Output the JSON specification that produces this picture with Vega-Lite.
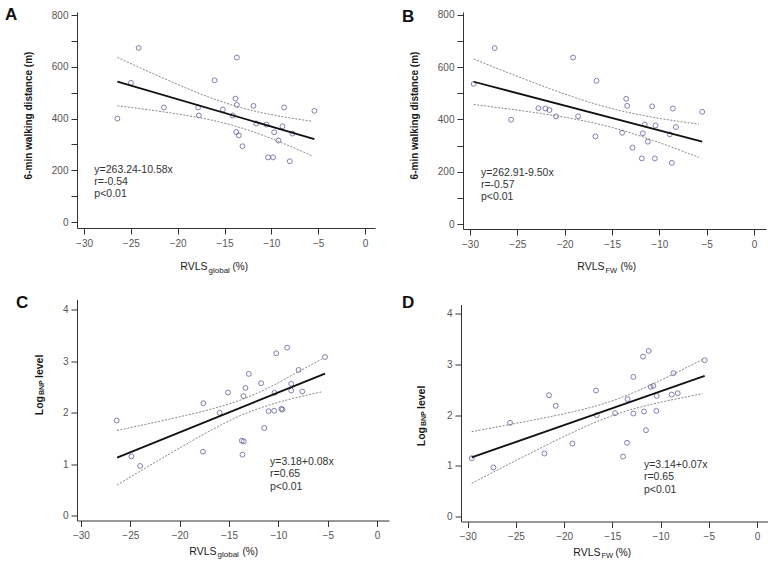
{
  "$schema": "https://vega.github.io/schema/vega-lite/v6.json",
  "background": "white",
  "padding": {"left": 5, "top": 6, "right": 0, "bottom": 0},
  "config": {
    "view": {"stroke": null},
    "axis": {
      "grid": false,
      "domainColor": "#333333",
      "domainWidth": 1,
      "tickColor": "#333333",
      "tickSize": 6,
      "labelColor": "#555555",
      "labelFont": "Liberation Sans",
      "labelFontSize": 10,
      "titleFont": "Liberation Sans",
      "titleColor": "#1a1a1a"
    },
    "axisX": {"labelPadding": 4},
    "axisY": {"labelPadding": 3},
    "title": {"font": "Liberation Sans", "fontSize": 17, "fontWeight": "bold", "color": "#111111", "anchor": "start", "frame": "group", "baseline": "alphabetic"}
  },
  "datasets": {
    "A_pts": [
      {"x": -26.44, "y": 400}, {"x": -24.99, "y": 538}, {"x": -24.17, "y": 673}, {"x": -21.47, "y": 443},
      {"x": -17.81, "y": 443}, {"x": -17.74, "y": 412}, {"x": -16.06, "y": 548}, {"x": -15.18, "y": 435},
      {"x": -14.11, "y": 412}, {"x": -13.83, "y": 477}, {"x": -13.68, "y": 636}, {"x": -13.68, "y": 453},
      {"x": -13.75, "y": 348}, {"x": -13.47, "y": 335}, {"x": -13.08, "y": 293}, {"x": -11.91, "y": 449},
      {"x": -11.62, "y": 381}, {"x": -10.52, "y": 377}, {"x": -10.34, "y": 250}, {"x": -9.81, "y": 250},
      {"x": -9.70, "y": 347}, {"x": -9.24, "y": 315}, {"x": -8.81, "y": 370}, {"x": -8.63, "y": 443},
      {"x": -8.03, "y": 235}, {"x": -7.75, "y": 342}, {"x": -5.40, "y": 430}
    ],
    "A_fit": [{"x": -26.44, "y": 543.0}, {"x": -5.40, "y": 320.4}],
    "A_ci": [
      {"x": -26.44, "y": 636.5, "side": "upper"}, {"x": -23, "y": 579.8, "side": "upper"}, {"x": -20, "y": 531.9, "side": "upper"},
      {"x": -17, "y": 487.5, "side": "upper"}, {"x": -14, "y": 450.2, "side": "upper"}, {"x": -11, "y": 422.5, "side": "upper"},
      {"x": -8, "y": 402.6, "side": "upper"}, {"x": -5.65, "y": 389.7, "side": "upper"},
      {"x": -26.44, "y": 449.5, "side": "lower"}, {"x": -23, "y": 433.4, "side": "lower"}, {"x": -20, "y": 417.7, "side": "lower"},
      {"x": -17, "y": 398.7, "side": "lower"}, {"x": -14, "y": 372.6, "side": "lower"}, {"x": -11, "y": 336.7, "side": "lower"},
      {"x": -8, "y": 293.2, "side": "lower"}, {"x": -5.65, "y": 256.3, "side": "lower"}
    ],
    "A_txt": [
      {"x": -28.9, "y": 201, "t": "y=263.24-10.58x"},
      {"x": -28.9, "y": 154.6, "t": "r=-0.54"},
      {"x": -28.9, "y": 108, "t": "p<0.01"}
    ],
    "B_pts": [
      {"x": -29.61, "y": 536}, {"x": -27.39, "y": 673}, {"x": -25.66, "y": 399}, {"x": -22.77, "y": 443},
      {"x": -22.03, "y": 442}, {"x": -21.61, "y": 436}, {"x": -20.91, "y": 412}, {"x": -19.11, "y": 637},
      {"x": -18.58, "y": 412}, {"x": -16.64, "y": 548}, {"x": -16.75, "y": 335}, {"x": -13.93, "y": 349},
      {"x": -13.50, "y": 479}, {"x": -13.40, "y": 452}, {"x": -12.83, "y": 292}, {"x": -11.85, "y": 251},
      {"x": -11.74, "y": 347}, {"x": -11.53, "y": 381}, {"x": -11.21, "y": 315}, {"x": -10.75, "y": 450},
      {"x": -10.47, "y": 251}, {"x": -10.40, "y": 377}, {"x": -8.89, "y": 343}, {"x": -8.68, "y": 234},
      {"x": -8.57, "y": 442}, {"x": -8.25, "y": 371}, {"x": -5.47, "y": 429}
    ],
    "B_fit": [{"x": -29.61, "y": 544.2}, {"x": -5.47, "y": 314.9}],
    "B_ci": [
      {"x": -29.61, "y": 631.2, "side": "upper"}, {"x": -26, "y": 579.2, "side": "upper"}, {"x": -23, "y": 537.2, "side": "upper"},
      {"x": -20, "y": 497.4, "side": "upper"}, {"x": -17, "y": 461.7, "side": "upper"}, {"x": -14, "y": 432.6, "side": "upper"},
      {"x": -11, "y": 410.5, "side": "upper"}, {"x": -8, "y": 392.9, "side": "upper"}, {"x": -5.8, "y": 381.6, "side": "upper"},
      {"x": -29.61, "y": 457.2, "side": "lower"}, {"x": -26, "y": 440.6, "side": "lower"}, {"x": -23, "y": 425.6, "side": "lower"},
      {"x": -20, "y": 408.4, "side": "lower"}, {"x": -17, "y": 387.1, "side": "lower"}, {"x": -14, "y": 359.2, "side": "lower"},
      {"x": -11, "y": 324.3, "side": "lower"}, {"x": -8, "y": 284.9, "side": "lower"}, {"x": -5.8, "y": 254.4, "side": "lower"}
    ],
    "B_txt": [
      {"x": -28.84, "y": 197, "t": "y=262.91-9.50x"},
      {"x": -28.84, "y": 150, "t": "r=-0.57"},
      {"x": -28.84, "y": 103, "t": "p<0.01"}
    ],
    "C_pts": [
      {"x": -26.38, "y": 1.848}, {"x": -24.89, "y": 1.150}, {"x": -24.01, "y": 0.963}, {"x": -17.61, "y": 2.184},
      {"x": -17.64, "y": 1.241}, {"x": -15.95, "y": 1.997}, {"x": -15.10, "y": 2.391}, {"x": -13.71, "y": 1.454},
      {"x": -13.54, "y": 2.320}, {"x": -13.51, "y": 1.441}, {"x": -13.64, "y": 1.183}, {"x": -13.34, "y": 2.481},
      {"x": -13.00, "y": 2.753}, {"x": -11.75, "y": 2.572}, {"x": -11.44, "y": 1.700}, {"x": -11.00, "y": 2.029},
      {"x": -10.43, "y": 2.036}, {"x": -10.39, "y": 2.385}, {"x": -10.22, "y": 3.153}, {"x": -9.70, "y": 2.074},
      {"x": -9.60, "y": 2.060}, {"x": -9.11, "y": 3.263}, {"x": -8.70, "y": 2.559}, {"x": -8.70, "y": 2.430},
      {"x": -7.95, "y": 2.830}, {"x": -7.58, "y": 2.410}, {"x": -5.28, "y": 3.082}
    ],
    "C_fit": [{"x": -26.34, "y": 1.124}, {"x": -5.28, "y": 2.759}],
    "C_ci": [
      {"x": -26.34, "y": 1.654, "side": "upper"}, {"x": -23, "y": 1.791, "side": "upper"}, {"x": -20, "y": 1.919, "side": "upper"},
      {"x": -17, "y": 2.059, "side": "upper"}, {"x": -14, "y": 2.234, "side": "upper"}, {"x": -11, "y": 2.483, "side": "upper"},
      {"x": -8, "y": 2.794, "side": "upper"}, {"x": -5.52, "y": 3.05, "side": "upper"},
      {"x": -26.34, "y": 0.594, "side": "lower"}, {"x": -23, "y": 0.975, "side": "lower"}, {"x": -20, "y": 1.313, "side": "lower"},
      {"x": -17, "y": 1.639, "side": "lower"}, {"x": -14, "y": 1.930, "side": "lower"}, {"x": -11, "y": 2.145, "side": "lower"},
      {"x": -8, "y": 2.300, "side": "lower"}, {"x": -5.52, "y": 2.408, "side": "lower"}
    ],
    "C_txt": [
      {"x": -10.85, "y": 1.043, "t": "y=3.18+0.08x"},
      {"x": -10.85, "y": 0.80, "t": "r=0.65"},
      {"x": -10.85, "y": 0.557, "t": "p<0.01"}
    ],
    "D_pts": [
      {"x": -29.59, "y": 1.149}, {"x": -27.34, "y": 0.966}, {"x": -25.61, "y": 1.846}, {"x": -22.05, "y": 1.241},
      {"x": -21.57, "y": 2.391}, {"x": -20.87, "y": 2.181}, {"x": -19.15, "y": 1.438}, {"x": -16.69, "y": 2.483},
      {"x": -16.62, "y": 1.997}, {"x": -14.72, "y": 2.036}, {"x": -13.89, "y": 1.182}, {"x": -13.48, "y": 1.452},
      {"x": -13.41, "y": 2.312}, {"x": -12.82, "y": 2.752}, {"x": -12.82, "y": 2.030}, {"x": -11.82, "y": 3.153},
      {"x": -11.71, "y": 2.069}, {"x": -11.51, "y": 1.701}, {"x": -11.23, "y": 3.265}, {"x": -11.02, "y": 2.555},
      {"x": -10.75, "y": 2.575}, {"x": -10.43, "y": 2.082}, {"x": -10.40, "y": 2.378}, {"x": -8.85, "y": 2.404},
      {"x": -8.67, "y": 2.824}, {"x": -8.22, "y": 2.430}, {"x": -5.42, "y": 3.080}
    ],
    "D_fit": [{"x": -29.59, "y": 1.163}, {"x": -5.42, "y": 2.772}],
    "D_ci": [
      {"x": -29.59, "y": 1.673, "side": "upper"}, {"x": -26, "y": 1.799, "side": "upper"}, {"x": -23, "y": 1.909, "side": "upper"},
      {"x": -20, "y": 2.026, "side": "upper"}, {"x": -17, "y": 2.163, "side": "upper"}, {"x": -14, "y": 2.349, "side": "upper"},
      {"x": -11, "y": 2.594, "side": "upper"}, {"x": -8, "y": 2.870, "side": "upper"}, {"x": -5.63, "y": 3.097, "side": "upper"},
      {"x": -29.59, "y": 0.653, "side": "lower"}, {"x": -26, "y": 1.005, "side": "lower"}, {"x": -23, "y": 1.295, "side": "lower"},
      {"x": -20, "y": 1.578, "side": "lower"}, {"x": -17, "y": 1.839, "side": "lower"}, {"x": -14, "y": 2.053, "side": "lower"},
      {"x": -11, "y": 2.208, "side": "lower"}, {"x": -8, "y": 2.332, "side": "lower"}, {"x": -5.63, "y": 2.421, "side": "lower"}
    ],
    "D_txt": [
      {"x": -11.72, "y": 1.011, "t": "y=3.14+0.07x"},
      {"x": -11.72, "y": 0.768, "t": "r=0.65"},
      {"x": -11.72, "y": 0.518, "t": "p<0.01"}
    ]
  },
  "columns": 2,
  "align": "none",
  "bounds": "full",
  "spacing": {"row": 19.5, "column": 13},
  "concat": [
    {
      "width": 298, "height": 216,
      "title": {"text": "A", "dx": -72, "offset": -14},
      "resolve": {"axis": {"x": "independent", "y": "independent"}},
      "layer": [
        {
          "data": {"name": "A_pts"},
          "mark": {"type": "point", "shape": "circle", "filled": false, "size": 24, "stroke": "#4a4a8c", "strokeWidth": 1},
          "encoding": {
            "x": {"field": "x", "type": "quantitative", "scale": {"domain": [-30.75, 1.07], "nice": false, "zero": false},
                  "axis": {"orient": "bottom", "values": [-30, -25, -20, -15, -10, -5, 0], "title": "RVLS", "titleX": 130, "titleY": 41, "titleAlign": "right", "titleBaseline": "alphabetic", "titleFontSize": 10.5, "titleFontWeight": "normal"}},
            "y": {"field": "y", "type": "quantitative", "scale": {"domain": [-23, 812], "nice": false, "zero": false},
                  "axis": {"orient": "left", "values": [0, 100, 200, 300, 400, 500, 600, 700, 800], "labelExpr": "datum.value % 200 === 0 ? datum.label : ''", "title": "6-min walking distance (m)", "titleX": -46, "titleY": 103, "titleAngle": 270, "titleAlign": "center", "titleBaseline": "alphabetic", "titleFontSize": 10, "titleFontWeight": "bold"}}
          }
        },
        {
          "data": {"name": "A_fit"},
          "mark": {"type": "line", "color": "#111111", "strokeWidth": 1.8},
          "encoding": {
            "x": {"field": "x", "type": "quantitative", "scale": {"domain": [-30.75, 1.07], "nice": false, "zero": false},
                  "axis": {"orient": "bottom", "domain": false, "ticks": false, "labels": false, "title": "global", "titleX": 131, "titleY": 44, "titleAlign": "left", "titleBaseline": "alphabetic", "titleFontSize": 8, "titleFontWeight": "normal"}},
            "y": {"field": "y", "type": "quantitative", "scale": {"domain": [-23, 812], "nice": false, "zero": false}, "axis": null}
          }
        },
        {
          "data": {"name": "A_ci"},
          "mark": {"type": "line", "color": "#777777", "strokeWidth": 0.9, "strokeDash": [2, 1.5], "interpolate": "monotone"},
          "encoding": {
            "x": {"field": "x", "type": "quantitative", "scale": {"domain": [-30.75, 1.07], "nice": false, "zero": false},
                  "axis": {"orient": "bottom", "domain": false, "ticks": false, "labels": false, "title": "(%)", "titleX": 155, "titleY": 41, "titleAlign": "left", "titleBaseline": "alphabetic", "titleFontSize": 10, "titleFontWeight": "normal"}},
            "y": {"field": "y", "type": "quantitative", "scale": {"domain": [-23, 812], "nice": false, "zero": false}, "axis": null},
            "detail": {"field": "side"}
          }
        },
        {
          "data": {"name": "A_txt"},
          "mark": {"type": "text", "align": "left", "baseline": "middle", "font": "Liberation Sans", "fontSize": 10.5, "color": "#333333"},
          "encoding": {
            "x": {"field": "x", "type": "quantitative", "scale": {"domain": [-30.75, 1.07], "nice": false, "zero": false}, "axis": null},
            "y": {"field": "y", "type": "quantitative", "scale": {"domain": [-23, 812], "nice": false, "zero": false}, "axis": null},
            "text": {"field": "t"}
          }
        }
      ]
    },
    {
      "width": 303, "height": 217,
      "title": {"text": "B", "dx": -61, "offset": -16},
      "resolve": {"axis": {"x": "independent", "y": "independent"}},
      "layer": [
        {
          "data": {"name": "B_pts"},
          "mark": {"type": "point", "shape": "circle", "filled": false, "size": 24, "stroke": "#4a4a8c", "strokeWidth": 1},
          "encoding": {
            "x": {"field": "x", "type": "quantitative", "scale": {"domain": [-30.74, 1.27], "nice": false, "zero": false},
                  "axis": {"orient": "bottom", "values": [-30, -25, -20, -15, -10, -5, 0], "title": "RVLS", "titleX": 141, "titleY": 40, "titleAlign": "right", "titleBaseline": "alphabetic", "titleFontSize": 10.5, "titleFontWeight": "normal"}},
            "y": {"field": "y", "type": "quantitative", "scale": {"domain": [-19, 811], "nice": false, "zero": false},
                  "axis": {"orient": "left", "values": [0, 100, 200, 300, 400, 500, 600, 700, 800], "labelExpr": "datum.value % 200 === 0 ? datum.label : ''", "title": "6-min walking distance (m)", "titleX": -46, "titleY": 103, "titleAngle": 270, "titleAlign": "center", "titleBaseline": "alphabetic", "titleFontSize": 10, "titleFontWeight": "bold"}}
          }
        },
        {
          "data": {"name": "B_fit"},
          "mark": {"type": "line", "color": "#111111", "strokeWidth": 1.8},
          "encoding": {
            "x": {"field": "x", "type": "quantitative", "scale": {"domain": [-30.74, 1.27], "nice": false, "zero": false},
                  "axis": {"orient": "bottom", "domain": false, "ticks": false, "labels": false, "title": "FW", "titleX": 142, "titleY": 43, "titleAlign": "left", "titleBaseline": "alphabetic", "titleFontSize": 7.5, "titleFontWeight": "normal"}},
            "y": {"field": "y", "type": "quantitative", "scale": {"domain": [-19, 811], "nice": false, "zero": false}, "axis": null}
          }
        },
        {
          "data": {"name": "B_ci"},
          "mark": {"type": "line", "color": "#777777", "strokeWidth": 0.9, "strokeDash": [2, 1.5], "interpolate": "monotone"},
          "encoding": {
            "x": {"field": "x", "type": "quantitative", "scale": {"domain": [-30.74, 1.27], "nice": false, "zero": false},
                  "axis": {"orient": "bottom", "domain": false, "ticks": false, "labels": false, "title": "(%)", "titleX": 157, "titleY": 40, "titleAlign": "left", "titleBaseline": "alphabetic", "titleFontSize": 10, "titleFontWeight": "normal"}},
            "y": {"field": "y", "type": "quantitative", "scale": {"domain": [-19, 811], "nice": false, "zero": false}, "axis": null},
            "detail": {"field": "side"}
          }
        },
        {
          "data": {"name": "B_txt"},
          "mark": {"type": "text", "align": "left", "baseline": "middle", "font": "Liberation Sans", "fontSize": 10.5, "color": "#333333"},
          "encoding": {
            "x": {"field": "x", "type": "quantitative", "scale": {"domain": [-30.74, 1.27], "nice": false, "zero": false}, "axis": null},
            "y": {"field": "y", "type": "quantitative", "scale": {"domain": [-19, 811], "nice": false, "zero": false}, "axis": null},
            "text": {"field": "t"}
          }
        }
      ]
    },
    {
      "width": 312, "height": 221,
      "title": {"text": "C", "dx": -61, "offset": -12},
      "resolve": {"axis": {"x": "independent", "y": "independent"}},
      "layer": [
        {
          "data": {"name": "C_pts"},
          "mark": {"type": "point", "shape": "circle", "filled": false, "size": 24, "stroke": "#4a4a8c", "strokeWidth": 1},
          "encoding": {
            "x": {"field": "x", "type": "quantitative", "scale": {"domain": [-30.4, 1.2], "nice": false, "zero": false},
                  "axis": {"orient": "bottom", "values": [-30, -25, -20, -15, -10, -5, 0], "title": "RVLS", "titleX": 139, "titleY": 34, "titleAlign": "right", "titleBaseline": "alphabetic", "titleFontSize": 10.5, "titleFontWeight": "normal"}},
            "y": {"field": "y", "type": "quantitative", "scale": {"domain": [-0.097, 4.2], "nice": false, "zero": false},
                  "axis": {"orient": "left", "values": [0, 1, 2, 3, 4], "title": "Log", "titleX": -35, "titleY": 96, "titleAngle": 270, "titleAlign": "right", "titleBaseline": "alphabetic", "titleFontSize": 10.5, "titleFontWeight": "bold"}}
          }
        },
        {
          "data": {"name": "C_fit"},
          "mark": {"type": "line", "color": "#111111", "strokeWidth": 1.8},
          "encoding": {
            "x": {"field": "x", "type": "quantitative", "scale": {"domain": [-30.4, 1.2], "nice": false, "zero": false},
                  "axis": {"orient": "bottom", "domain": false, "ticks": false, "labels": false, "title": "global", "titleX": 140, "titleY": 36, "titleAlign": "left", "titleBaseline": "alphabetic", "titleFontSize": 8, "titleFontWeight": "normal"}},
            "y": {"field": "y", "type": "quantitative", "scale": {"domain": [-0.097, 4.2], "nice": false, "zero": false},
                  "axis": {"orient": "left", "domain": false, "ticks": false, "labels": false, "title": "BNP", "titleX": -34, "titleY": 95, "titleAngle": 270, "titleAlign": "left", "titleBaseline": "alphabetic", "titleFontSize": 7, "titleFontWeight": "bold"}}
          }
        },
        {
          "data": {"name": "C_ci"},
          "mark": {"type": "line", "color": "#777777", "strokeWidth": 0.9, "strokeDash": [2, 1.5], "interpolate": "monotone"},
          "encoding": {
            "x": {"field": "x", "type": "quantitative", "scale": {"domain": [-30.4, 1.2], "nice": false, "zero": false},
                  "axis": {"orient": "bottom", "domain": false, "ticks": false, "labels": false, "title": "(%)", "titleX": 165, "titleY": 34, "titleAlign": "left", "titleBaseline": "alphabetic", "titleFontSize": 10, "titleFontWeight": "normal"}},
            "y": {"field": "y", "type": "quantitative", "scale": {"domain": [-0.097, 4.2], "nice": false, "zero": false},
                  "axis": {"orient": "left", "domain": false, "ticks": false, "labels": false, "title": "level", "titleX": -35, "titleY": 78, "titleAngle": 270, "titleAlign": "left", "titleBaseline": "alphabetic", "titleFontSize": 10.5, "titleFontWeight": "bold"}},
            "detail": {"field": "side"}
          }
        },
        {
          "data": {"name": "C_txt"},
          "mark": {"type": "text", "align": "left", "baseline": "middle", "font": "Liberation Sans", "fontSize": 10.5, "color": "#333333"},
          "encoding": {
            "x": {"field": "x", "type": "quantitative", "scale": {"domain": [-30.4, 1.2], "nice": false, "zero": false}, "axis": null},
            "y": {"field": "y", "type": "quantitative", "scale": {"domain": [-0.097, 4.2], "nice": false, "zero": false}, "axis": null},
            "text": {"field": "t"}
          }
        }
      ]
    },
    {
      "width": 308, "height": 217,
      "title": {"text": "D", "dx": -59, "offset": -7},
      "resolve": {"axis": {"x": "independent", "y": "independent"}},
      "layer": [
        {
          "data": {"name": "D_pts"},
          "mark": {"type": "point", "shape": "circle", "filled": false, "size": 24, "stroke": "#4a4a8c", "strokeWidth": 1},
          "encoding": {
            "x": {"field": "x", "type": "quantitative", "scale": {"domain": [-30.7, 1.25], "nice": false, "zero": false},
                  "axis": {"orient": "bottom", "values": [-30, -25, -20, -15, -10, -5, 0], "title": "RVLS", "titleX": 139, "titleY": 34, "titleAlign": "right", "titleBaseline": "alphabetic", "titleFontSize": 10.5, "titleFontWeight": "normal"}},
            "y": {"field": "y", "type": "quantitative", "scale": {"domain": [-0.1, 4.18], "nice": false, "zero": false},
                  "axis": {"orient": "left", "values": [0, 1, 2, 3, 4], "title": "Log", "titleX": -37, "titleY": 122, "titleAngle": 270, "titleAlign": "right", "titleBaseline": "alphabetic", "titleFontSize": 10.5, "titleFontWeight": "bold"}}
          }
        },
        {
          "data": {"name": "D_fit"},
          "mark": {"type": "line", "color": "#111111", "strokeWidth": 1.8},
          "encoding": {
            "x": {"field": "x", "type": "quantitative", "scale": {"domain": [-30.7, 1.25], "nice": false, "zero": false},
                  "axis": {"orient": "bottom", "domain": false, "ticks": false, "labels": false, "title": "FW", "titleX": 140, "titleY": 36, "titleAlign": "left", "titleBaseline": "alphabetic", "titleFontSize": 7.5, "titleFontWeight": "normal"}},
            "y": {"field": "y", "type": "quantitative", "scale": {"domain": [-0.1, 4.18], "nice": false, "zero": false},
                  "axis": {"orient": "left", "domain": false, "ticks": false, "labels": false, "title": "BNP", "titleX": -36, "titleY": 121, "titleAngle": 270, "titleAlign": "left", "titleBaseline": "alphabetic", "titleFontSize": 7, "titleFontWeight": "bold"}}
          }
        },
        {
          "data": {"name": "D_ci"},
          "mark": {"type": "line", "color": "#777777", "strokeWidth": 0.9, "strokeDash": [2, 1.5], "interpolate": "monotone"},
          "encoding": {
            "x": {"field": "x", "type": "quantitative", "scale": {"domain": [-30.7, 1.25], "nice": false, "zero": false},
                  "axis": {"orient": "bottom", "domain": false, "ticks": false, "labels": false, "title": "(%)", "titleX": 154, "titleY": 34, "titleAlign": "left", "titleBaseline": "alphabetic", "titleFontSize": 10, "titleFontWeight": "normal"}},
            "y": {"field": "y", "type": "quantitative", "scale": {"domain": [-0.1, 4.18], "nice": false, "zero": false},
                  "axis": {"orient": "left", "domain": false, "ticks": false, "labels": false, "title": "level", "titleX": -37, "titleY": 104, "titleAngle": 270, "titleAlign": "left", "titleBaseline": "alphabetic", "titleFontSize": 10.5, "titleFontWeight": "bold"}},
            "detail": {"field": "side"}
          }
        },
        {
          "data": {"name": "D_txt"},
          "mark": {"type": "text", "align": "left", "baseline": "middle", "font": "Liberation Sans", "fontSize": 10.5, "color": "#333333"},
          "encoding": {
            "x": {"field": "x", "type": "quantitative", "scale": {"domain": [-30.7, 1.25], "nice": false, "zero": false}, "axis": null},
            "y": {"field": "y", "type": "quantitative", "scale": {"domain": [-0.1, 4.18], "nice": false, "zero": false}, "axis": null},
            "text": {"field": "t"}
          }
        }
      ]
    }
  ]
}
